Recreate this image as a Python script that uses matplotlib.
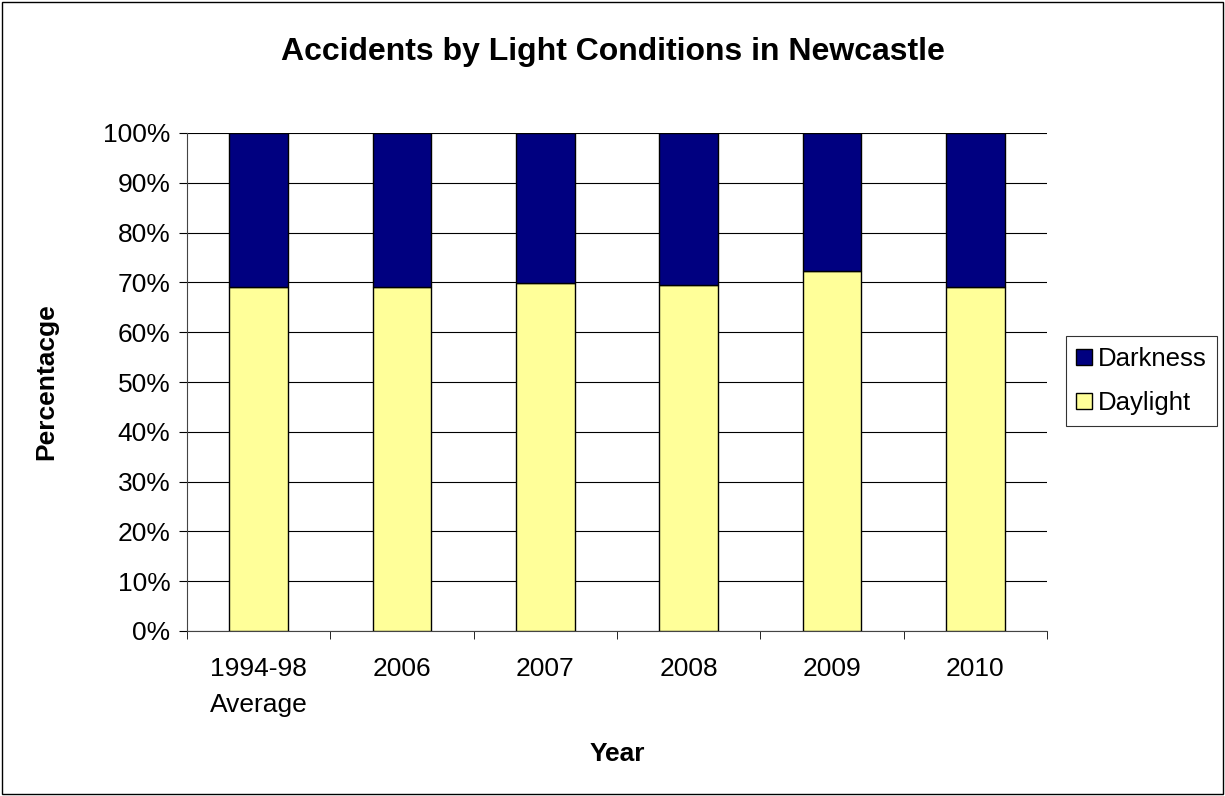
import matplotlib.pyplot as plt
import numpy as np

years = ["1994-98\nAverage", "2006", "2007", "2008", "2009", "2010"]
daylight = [69.1, 69.1, 69.8, 69.4, 72.2, 69.1]
darkness = [100 - v for v in daylight]

plt.rcParams['font.family'] = ['Liberation Sans', 'DejaVu Sans']

fig = plt.figure(figsize=(12.25, 7.96), dpi=100)
# outer border of chart area
fig.patches.append(plt.Rectangle((0.002, 0.002), 0.996, 0.996, transform=fig.transFigure,
                                 fill=False, edgecolor='black', linewidth=1))

ax = fig.add_axes([187 / 1225, 1 - 631 / 796, (1047 - 187) / 1225, (631 - 133) / 796])
x = np.arange(len(years))
ax.bar(x, daylight, width=0.41, color='#FFFF99', edgecolor='black', linewidth=1,
       label='Daylight', zorder=3)
ax.bar(x, darkness, width=0.41, bottom=daylight, color='#000080', edgecolor='black',
       linewidth=1, label='Darkness', zorder=3)

ax.set_xlim(-0.5, len(years) - 0.5)
ax.set_ylim(0, 100)
ax.set_yticks(range(0, 101, 10))
ax.set_yticklabels([f"{v}%" for v in range(0, 101, 10)], fontsize=19)
ax.yaxis.grid(True, color='black', linewidth=0.8, zorder=0)
ax.set_axisbelow(True)

ax.set_xticks(x)
ax.set_xticklabels(years, fontsize=19, linespacing=1.6)
ax.set_xticks(np.arange(-0.5, len(years)), minor=True)
ax.tick_params(axis='x', which='major', length=0, pad=19)
ax.tick_params(axis='x', which='minor', length=6, direction='out')
ax.tick_params(axis='y', length=6, direction='out', pad=6)

for s in ['top', 'right']:
    ax.spines[s].set_visible(False)
ax.spines['left'].set_color('#444444')
ax.spines['bottom'].set_color('#444444')

ax.set_xlabel("Year", fontsize=19, fontweight='bold', labelpad=18)
ax.set_ylabel("Percentacge", fontsize=19, fontweight='bold', labelpad=32)
fig.suptitle("Accidents by Light Conditions in Newcastle", fontsize=23, fontweight='bold',
             y=1 - 52 / 796, va='center')

handles, labels = ax.get_legend_handles_labels()
leg = fig.legend(handles[::-1], labels[::-1], loc='center left',
                 bbox_to_anchor=(1066 / 1225, 1 - 381 / 796), fontsize=18.5,
                 frameon=True, fancybox=False, edgecolor='black', handlelength=0.6,
                 handleheight=0.6, handletextpad=0.25, borderpad=0.4, labelspacing=0.8,
                 borderaxespad=0)
leg.get_frame().set_linewidth(0.8)

fig.savefig("out.png", dpi=100)
